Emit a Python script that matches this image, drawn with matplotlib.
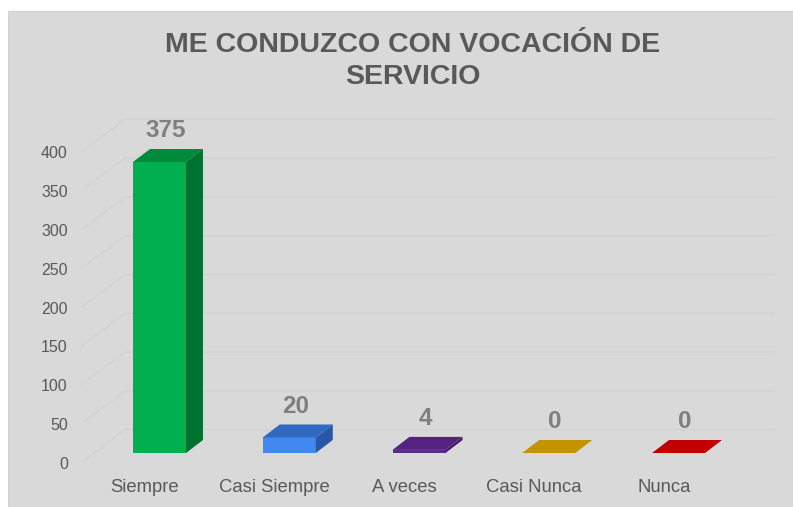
import matplotlib
matplotlib.use("Agg")
import matplotlib.pyplot as plt
from matplotlib.patches import Polygon, Rectangle

# chart data
categories = ["Siempre", "Casi Siempre", "A veces", "Casi Nunca", "Nunca"]
values = [375, 20, 4, 0, 0]
y_ticks = [0, 50, 100, 150, 200, 250, 300, 350, 400]
title_lines = ["ME CONDUZCO CON VOCACIÓN DE", "SERVICIO"]

front_colors = ["#00b050", "#4189f0", "#5b2a8a", "#c09000", "#c00000"]
top_colors = ["#008a3e", "#3068c2", "#54227f", "#c49300", "#c30000"]
side_colors = ["#00722f", "#2a56a6", "#46196a", "#a47b00", "#a00000"]

W, H = 793, 507
plt.rcParams["font.family"] = ["Liberation Sans", "DejaVu Sans"]

fig = plt.figure(figsize=(W / 100, H / 100), dpi=100)
fig.patch.set_facecolor("white")
fig.patches.append(Rectangle((8 / W, 0), 1, 1 - 11 / H, transform=fig.transFigure,
                             facecolor="#d9d9d9", edgecolor="#cccccc", lw=0.6, zorder=-10))

# axes placed in pixels: x 81..775, y 111.6..472.4 (from top)
px_unit_x = 129.75
px_unit_y = 0.776
x0_px = 159.5
xlim = ((81 - x0_px) / px_unit_x, (775 - x0_px) / px_unit_x)
ylim = (-25, 440)
top_px = 453 - ylim[1] * px_unit_y
bot_px = 453 - ylim[0] * px_unit_y
ax = fig.add_axes([81 / W, 1 - bot_px / H, (775 - 81) / W, (bot_px - top_px) / H])
ax.set_xlim(*xlim)
ax.set_ylim(*ylim)
ax.patch.set_alpha(0)
for s in ax.spines.values():
    s.set_visible(False)

# 3D-ish gridlines: slanted side wall then back wall
front_off, back_off = -12.5, 30
wall_x = (125 - x0_px) / px_unit_x
grid_c = "#d1d1d1"
for v in y_ticks:
    ax.plot([xlim[0], wall_x, xlim[1]], [v + front_off, v + back_off, v + back_off],
            color=grid_c, lw=0.8, zorder=1, solid_joinstyle="miter")

ax.set_yticks([v + front_off for v in y_ticks])
ax.set_yticklabels([str(v) for v in y_ticks])
ax.tick_params(axis="y", length=0, pad=9.5, labelsize=11.5, labelcolor="#595959")

label_shift = -14.5 / px_unit_x
ax.set_xticks([i + label_shift for i in range(len(categories))])
ax.set_xticklabels(categories)
ax.tick_params(axis="x", length=0, pad=4.5, labelsize=13.3, labelcolor="#595959")

# bars
width = 53 / px_unit_x
dx = 17 / px_unit_x
dy = 13 / px_unit_y
for i, v in enumerate(values):
    l, r = i - width / 2, i + width / 2
    ax.bar(i, v, width, color=front_colors[i], lw=0, zorder=3)
    ax.add_patch(Polygon([(r, 0), (r + dx, dy), (r + dx, v + dy), (r, v)],
                         closed=True, facecolor=side_colors[i], lw=0, zorder=3))
    ax.add_patch(Polygon([(l, v), (r, v), (r + dx, v + dy), (l + dx, v + dy)],
                         closed=True, facecolor=top_colors[i], lw=0, zorder=3))
    ax.annotate(str(v), xy=(i + 6 / px_unit_x, v + dy), xytext=(0, 18),
                textcoords="offset pixels", ha="center", va="center",
                fontsize=17.5, fontweight="bold", color="#7f7f7f", zorder=4)

# title
fig.text(413 / W, 1 - 45 / H, title_lines[0], ha="center", va="center",
         fontsize=20.5, fontweight="bold", color="#595959")
fig.text(413 / W, 1 - 77 / H, title_lines[1], ha="center", va="center",
         fontsize=20.5, fontweight="bold", color="#595959")

fig.savefig("out.png", dpi=100, facecolor=fig.get_facecolor())
